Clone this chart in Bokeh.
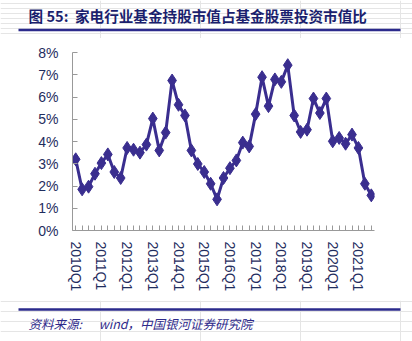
from bokeh.plotting import figure
from bokeh.layouts import column
from bokeh.models import Range1d, NumeralTickFormatter, FixedTicker
from bokeh.core.properties import value
from bokeh.embed import file_html
from bokeh.resources import INLINE

years = list(range(2010, 2022))
quarters = [f"{y}Q{q}" for y in years for q in range(1, 5)][:47]  # 2010Q1 .. 2021Q3

share = [3.20, 1.85, 1.97, 2.55, 3.03, 3.42, 2.63, 2.36,
         3.71, 3.63, 3.50, 3.86, 5.03, 3.60, 4.40, 6.74,
         5.65, 5.17, 3.60, 2.99, 2.63, 2.10, 1.40, 2.36,
         2.80, 3.15, 3.95, 3.78, 5.23, 6.89, 5.59, 6.79,
         6.68, 7.43, 5.17, 4.43, 4.53, 5.93, 5.28, 5.93,
         4.01, 4.16, 3.90, 4.31, 3.71, 2.10, 1.58]
share_frac = [v / 100 for v in share]
pos = list(range(len(quarters)))

NB = "\u00a0"
title_text = "图 55:" + NB * 2 + "家电行业基金持股市值占基金股票投资市值比"
source_text = "资料来源:" + NB * 6 + "wind，中国银河证券研究院"

W = 412
TOP_H, MAIN_H, BOT_H = 38, 262, 41
rule_col = "#2B2A8C"


def banner(height):
    f = figure(width=W, height=height, x_range=Range1d(0, W), y_range=Range1d(0, height),
               output_backend="svg", toolbar_location=None,
               x_axis_location=None, y_axis_location=None, frame_align=False,
               min_border_left=0, min_border_right=0, min_border_top=0, min_border_bottom=0)
    f.outline_line_color = None
    f.background_fill_color = "white"
    f.border_fill_color = "white"
    return f


# header: title + rule (y measured upward from the banner's bottom)
top = banner(TOP_H)
top.text(x=[28], y=[TOP_H - 15], text=[title_text], text_font=value("Noto Sans CJK SC"),
         text_font_style="bold", text_font_size="14.6px", text_color="#1B1F6E",
         text_baseline="middle", text_align="left")
top.line(x=[18, 400], y=[TOP_H - 29.5, TOP_H - 29.5], line_color=rule_col, line_width=2.3)

# main chart
p = figure(width=W, height=MAIN_H, x_range=Range1d(-0.5, len(quarters) - 0.5),
           y_range=Range1d(0, 0.08), output_backend="svg", toolbar_location=None, frame_align=False,
           min_border_left=72, min_border_right=W - 374, min_border_top=14, min_border_bottom=70)
p.outline_line_color = None
p.xgrid.grid_line_color = None
p.ygrid.grid_line_color = None
p.background_fill_color = "white"
p.border_fill_color = "white"

line_col = "#3A2E8F"
p.line(pos, share_frac, line_color=line_col, line_width=3)
p.scatter(pos, share_frac, marker="diamond", size=13, fill_color=line_col, line_color=line_col)

lab_col = "#1F2D5E"
ax = p.yaxis[0]
ax.ticker = FixedTicker(ticks=[i / 100 for i in range(0, 9)])
ax.formatter = NumeralTickFormatter(format="0%")
ax.axis_line_color = "#999999"
ax.major_tick_line_color = "#999999"
ax.major_tick_in = 5
ax.major_tick_out = 0
ax.minor_tick_line_color = None
ax.major_label_text_font = "Liberation Sans"
ax.major_label_text_font_size = "14px"
ax.major_label_text_color = lab_col
ax.major_label_standoff = 14

xa = p.xaxis[0]
xa.ticker = FixedTicker(ticks=pos)
xa.axis_line_color = "#999999"
xa.major_tick_line_color = "#999999"
xa.major_tick_in = 5
xa.major_tick_out = 0
xa.minor_tick_line_color = None
xa.major_label_orientation = "vertical"
xa.major_label_text_font = "Liberation Sans"
xa.major_label_text_font_size = "14px"
xa.major_label_text_color = lab_col
xa.major_label_standoff = 11
xa.major_label_overrides = {i: (q if q.endswith("Q1") else "") for i, q in enumerate(quarters)}

# footer: rule + source
bot = banner(BOT_H)
bot.line(x=[18, 400], y=[BOT_H - 9, BOT_H - 9], line_color=rule_col, line_width=2.3)
bot.text(x=[28], y=[BOT_H - 23], text=[source_text], text_font=value("Noto Sans CJK SC"),
         text_font_style="italic", text_font_size="12.5px", text_color="#2E2A8A",
         text_baseline="middle", text_align="left")

layout = column(top, p, bot, spacing=0)
open("out.html", "w").write(file_html(layout, INLINE))
